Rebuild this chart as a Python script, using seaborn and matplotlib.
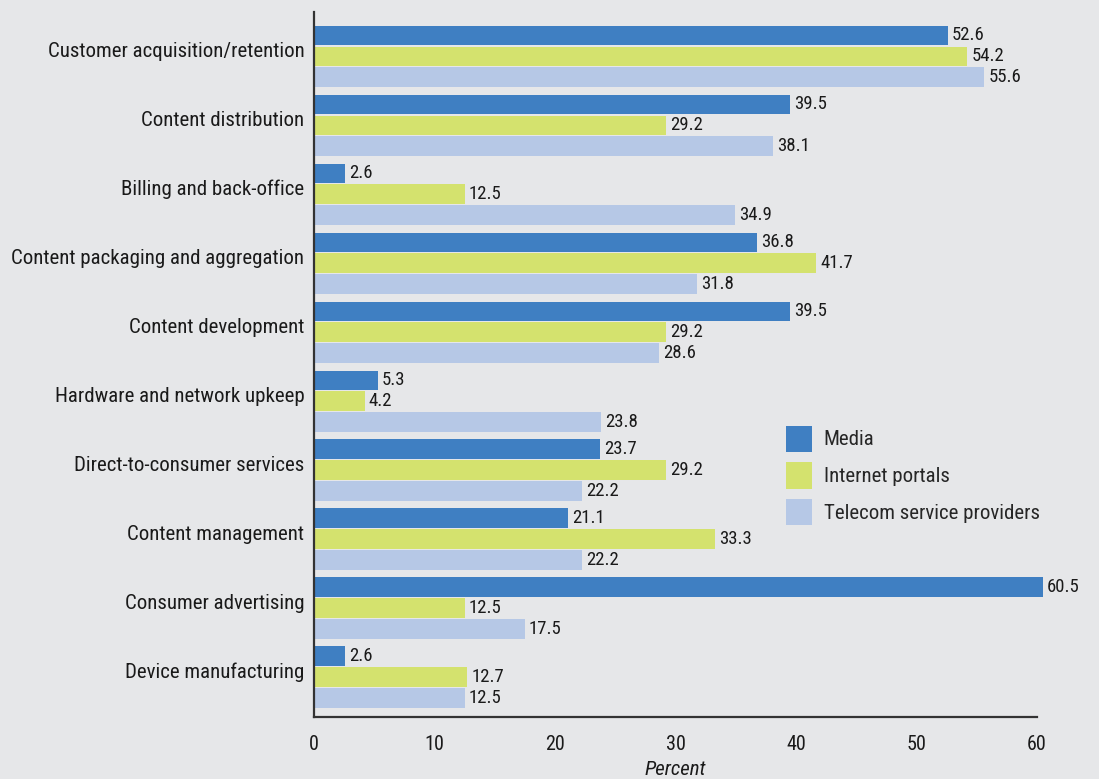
import pandas as pd
import seaborn as sns
import matplotlib.pyplot as plt
from matplotlib import font_manager
from matplotlib.patches import Patch
from matplotlib.transforms import ScaledTranslation

categories = ['Customer acquisition/retention', 'Content distribution', 'Billing and back-office',
              'Content packaging and aggregation', 'Content development', 'Hardware and network upkeep',
              'Direct-to-consumer services', 'Content management', 'Consumer advertising',
              'Device manufacturing']
series = ['Media', 'Internet portals', 'Telecom service providers']
media = [52.6, 39.5, 2.6, 36.8, 39.5, 5.3, 23.7, 21.1, 60.5, 2.6]
portals = [54.2, 29.2, 12.5, 41.7, 29.2, 4.2, 29.2, 33.3, 12.5, 12.7]
telecom = [55.6, 38.1, 34.9, 31.8, 28.6, 23.8, 22.2, 22.2, 17.5, 12.5]
colors = ['#3f7fc2', '#d4e26e', '#b6c8e6']

frame = pd.DataFrame({'category': categories * 3,
                      'series': [s for s in series for _ in categories],
                      'value': media + portals + telecom})

bg = '#e6e7e9'
sns.set_style('white')
installed = {f.name for f in font_manager.fontManager.ttflist}
fam = [f for f in ['Liberation Sans Narrow', 'Roboto Condensed', 'Liberation Sans'] if f in installed]
plt.rcParams['font.family'] = fam + ['DejaVu Sans']

fig = plt.figure(figsize=(10.99, 7.79), dpi=100, facecolor=bg)
ax = fig.add_axes([0.2857, 0.0796, 0.6579, 0.905])
ax.set_facecolor(bg)

sns.barplot(data=frame, y='category', x='value', hue='series', orient='h',
            palette=colors, width=0.91, gap=0.08, saturation=1, linewidth=0,
            ax=ax, legend=False)

# the 60.5 bar runs past the axis end
for p in ax.patches:
    p.set_clip_on(False)

for cont in ax.containers:
    labels = ax.bar_label(cont, fmt='%.1f', padding=3, fontsize=13.5, color='#1a1a1a')
    for t in labels:
        t.set_clip_on(False)
        t.set_annotation_clip(False)

ax.set_xlim(0, 60)
ax.set_ylim(9.58, -0.64)
ax.set_xticks(range(0, 61, 10))
ax.tick_params(axis='x', length=0, pad=13, labelsize=14.5, colors='#1a1a1a')
ax.tick_params(axis='y', length=0, pad=7, labelsize=15, colors='#1a1a1a')
# category names sit a bit above the group centre
shift = ScaledTranslation(0, 7 / 100, fig.dpi_scale_trans)
for t in ax.get_yticklabels():
    t.set_transform(t.get_transform() + shift)
ax.set_ylabel('')
ax.set_xlabel('Percent', fontsize=15, style='italic', color='#1a1a1a', labelpad=4)
for s in ['top', 'right']:
    ax.spines[s].set_visible(False)
for s in ['left', 'bottom']:
    ax.spines[s].set_color('#333333')
    ax.spines[s].set_linewidth(1.6)
ax.spines['bottom'].set_bounds(0, 60)

handles = [Patch(facecolor=c, edgecolor='none', label=s) for c, s in zip(colors, series)]
ax.legend(handles=handles, loc='upper left', bbox_to_anchor=(0.627, 0.44), frameon=False,
          fontsize=15, handlelength=1.25, handleheight=1.55, handletextpad=0.55, labelspacing=0.52)

plt.savefig('out.png', dpi=100, facecolor=bg)
